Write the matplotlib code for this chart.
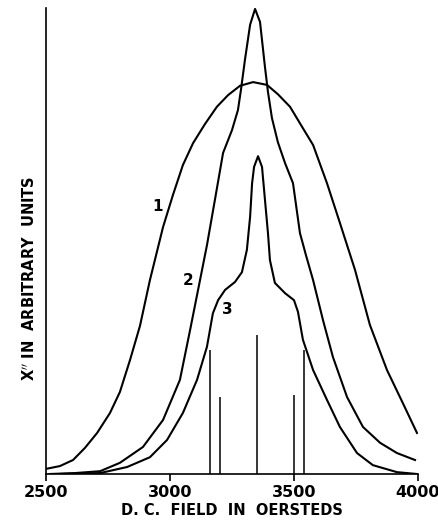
import matplotlib
matplotlib.use("Agg")
import matplotlib.pyplot as plt
import numpy as np

# curve 1: broad line (field in Oe, chi'' in arbitrary units)
field_1 = [2500, 2556, 2609, 2657, 2706, 2758, 2798, 2839, 2879, 2919, 2972, 3012,
           3052, 3093, 3141, 3189, 3234, 3282, 3335, 3391, 3435, 3484, 3536, 3577,
           3633, 3685, 3746, 3806, 3875, 3939, 3996]
chi_1 = [1.1, 1.7, 3.0, 5.6, 8.8, 13.1, 17.6, 24.5, 31.8, 41.6, 53.0, 59.9,
         66.3, 71.0, 75.1, 78.8, 81.3, 83.3, 84.1, 83.5, 81.5, 78.8, 74.2, 70.6,
         62.4, 53.9, 43.8, 32.0, 22.3, 15.2, 8.8]

# curve 2
field_2 = [2516, 2617, 2718, 2798, 2891, 2972, 3040, 3081, 3121, 3149, 3181, 3214,
           3250, 3274, 3286, 3302, 3323, 3343, 3363, 3383, 3395, 3411, 3435, 3464,
           3496, 3524, 3548, 3577, 3617, 3657, 3714, 3778, 3847, 3915, 3988]
chi_2 = [0.0, 0.2, 0.6, 2.4, 5.8, 11.6, 20.2, 30.9, 41.6, 49.1, 58.8, 68.9,
         73.8, 78.1, 82.4, 88.8, 96.4, 99.8, 97.0, 87.3, 82.0, 76.4, 71.2, 66.7,
         62.4, 51.7, 47.0, 41.6, 33.0, 25.1, 16.5, 10.1, 6.7, 4.5, 3.0]

# curve 3
field_3 = [2556, 2718, 2827, 2919, 2988, 3052, 3109, 3149, 3173, 3194, 3222, 3262,
           3290, 3310, 3323, 3331, 3339, 3355, 3371, 3383, 3395, 3403, 3423, 3464,
           3500, 3516, 3536, 3577, 3633, 3685, 3754, 3818, 3915, 3996]
chi_3 = [0.0, 0.2, 1.5, 3.6, 7.3, 13.1, 20.2, 27.3, 34.5, 37.3, 39.5, 41.2,
         43.3, 48.1, 55.2, 62.4, 65.9, 68.2, 65.9, 58.8, 51.7, 45.9, 41.0, 38.8,
         37.3, 34.8, 28.8, 22.3, 15.9, 10.1, 4.5, 1.9, 0.4, 0.0]

# stick spectrum
stick_field = [3162, 3202, 3351, 3500, 3540]
stick_height = [26.6, 16.5, 29.8, 17.0, 26.6]

# curve labels
label_text = ["1", "2", "3"]
label_field = [2948, 3073, 3230]
label_chi = [57.3, 41.6, 35.2]

plt.rcParams['font.family'] = ['DejaVu Sans']

fig = plt.figure(figsize=(4.39, 5.22), dpi=100)
ax = fig.add_axes([46 / 439, 48 / 522, 372 / 439, 466 / 522])

ax.plot(field_1, chi_1, color='black', lw=1.5, solid_joinstyle='round')
ax.plot(field_2, chi_2, color='black', lw=1.5, solid_joinstyle='round')
ax.plot(field_3, chi_3, color='black', lw=1.5, solid_joinstyle='round')
ax.vlines(stick_field, 0, stick_height, color='black', lw=1.1)

for t, fx, fy in zip(label_text, label_field, label_chi):
    ax.text(fx, fy, t, fontsize=11, fontweight='bold', ha='center', va='center')

ax.set_xlim(2500, 4000)
ax.set_ylim(0, 100)
ax.spines['top'].set_visible(False)
ax.spines['right'].set_visible(False)
ax.spines['left'].set_linewidth(1.2)
ax.spines['bottom'].set_linewidth(1.2)

ax.set_xticks([2500, 3000, 3500, 4000])
ax.set_xticklabels(['2500', '3000', '3500', '4000'], fontsize=11.5, fontweight='bold')
ax.tick_params(axis='x', direction='out', length=5, width=1.2, pad=3)
ax.set_yticks([])

ax.set_xlabel('D. C.  FIELD  IN  OERSTEDS', fontsize=10.5, fontweight='bold', labelpad=2)
ax.set_ylabel(r"X$^{\prime\prime}$ IN  ARBITRARY  UNITS", fontsize=10.5, fontweight='bold')
ax.yaxis.set_label_coords(-0.022, 0.42)

fig.savefig('out.png', dpi=100)
